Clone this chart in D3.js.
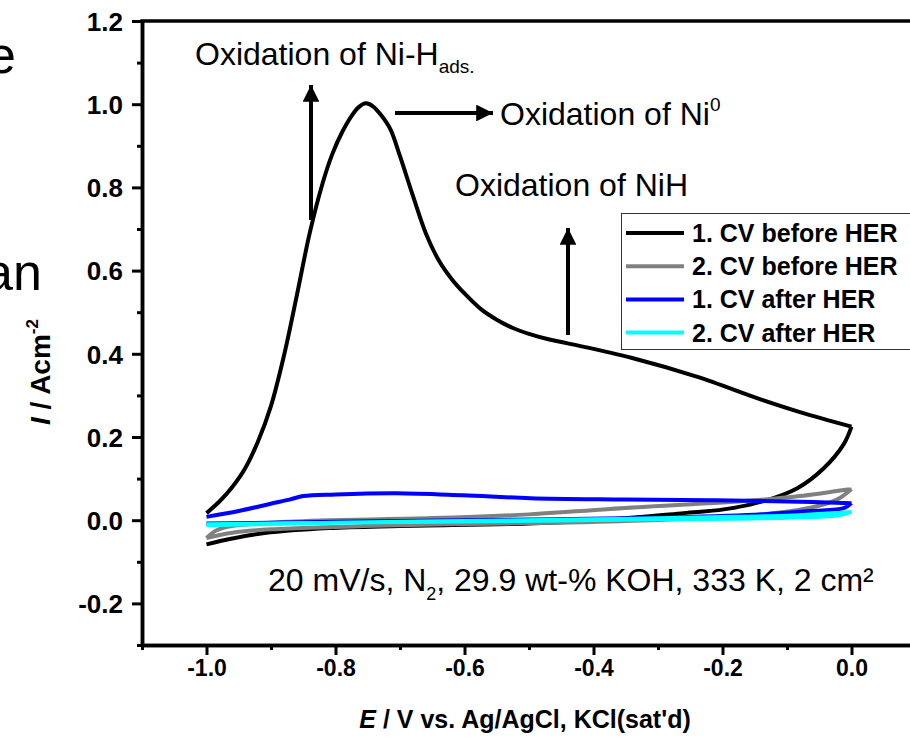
<!DOCTYPE html>
<html>
<head>
<meta charset="utf-8">
<script src="https://cdn.jsdelivr.net/npm/d3@7"></script>
<style>
  body { margin: 0; background: #fff; }
  svg { display: block; font-family: "Liberation Sans", Arial, sans-serif; }
</style>
</head>
<body>
<svg id="chart" width="910" height="753"></svg>
<script>
// CV data: [E (V), I (A/cm2)]
// forward scan (-1.0 -> 0.0) and reverse scan (0.0 -> -1.0) kept apart so the turn stays sharp
var cv1BeforeFwd = [
  [-1.0, 0.017], [-0.98, 0.045], [-0.96, 0.08], [-0.94, 0.125], [-0.92, 0.19],
  [-0.90, 0.275], [-0.88, 0.395], [-0.86, 0.54], [-0.84, 0.69], [-0.82, 0.81],
  [-0.805, 0.88], [-0.79, 0.932], [-0.775, 0.972], [-0.764, 0.993], [-0.753, 1.002],
  [-0.742, 0.995], [-0.73, 0.975], [-0.715, 0.94], [-0.70, 0.875], [-0.68, 0.78],
  [-0.66, 0.69], [-0.64, 0.625], [-0.62, 0.58], [-0.60, 0.545], [-0.575, 0.508],
  [-0.55, 0.482], [-0.525, 0.462], [-0.50, 0.448], [-0.47, 0.435], [-0.44, 0.425],
  [-0.34, 0.39], [-0.24, 0.345], [-0.14, 0.29], [-0.08, 0.26], [0.0, 0.225]
];
var cv1BeforeRev = [
  [0.0, 0.225], [-0.012, 0.183], [-0.043, 0.125], [-0.084, 0.077], [-0.136, 0.046],
  [-0.198, 0.026], [-0.26, 0.017], [-0.39, 0.0], [-0.5, -0.008], [-0.7, -0.014],
  [-0.81, -0.019], [-0.91, -0.031], [-0.96, -0.044], [-1.0, -0.058]
];
var cv2BeforeFwd = [
  [-1.0, -0.043], [-0.985, -0.025], [-0.965, -0.015], [-0.9, -0.006], [-0.81, 0.0],
  [-0.65, 0.005], [-0.5, 0.014], [-0.374, 0.027], [-0.167, 0.046], [-0.08, 0.058],
  [0.0, 0.075]
];
var cv2BeforeRev = [
  [0.0, 0.075], [-0.022, 0.05], [-0.064, 0.03], [-0.167, 0.01], [-0.374, -0.003],
  [-0.5, -0.007], [-0.7, -0.012], [-0.9, -0.022], [-0.96, -0.03], [-1.0, -0.043]
];
var cv1AfterFwd = [
  [-1.0, 0.008], [-0.95, 0.022], [-0.902, 0.039], [-0.87, 0.05], [-0.85, 0.058],
  [-0.8, 0.062], [-0.705, 0.065], [-0.602, 0.06], [-0.498, 0.053], [-0.35, 0.05],
  [-0.22, 0.048], [-0.1, 0.045], [0.0, 0.041]
];
var cv1AfterRev = [
  [0.0, 0.041], [-0.012, 0.029], [-0.064, 0.022], [-0.15, 0.013], [-0.3, 0.006],
  [-0.6, 0.0], [-0.8, -0.004], [-1.0, -0.008]
];
var cv2AfterFwd = [
  [-1.0, -0.012], [-0.8, -0.006], [-0.6, -0.002], [-0.4, 0.002], [-0.22, 0.007],
  [-0.1, 0.011], [0.0, 0.02]
];
var cv2AfterRev = [
  [0.0, 0.02], [-0.02, 0.012], [-0.1, 0.006], [-0.3, 0.002], [-0.6, -0.003],
  [-0.8, -0.006], [-1.0, -0.01]
];

var seriesNames = ["1. CV before HER", "2. CV before HER", "1. CV after HER", "2. CV after HER"];
var seriesColors = ["#000000", "#808080", "#0000ff", "#00ffff"];
var seriesData = [
  [cv1BeforeFwd, cv1BeforeRev],
  [cv2BeforeFwd, cv2BeforeRev],
  [cv1AfterFwd, cv1AfterRev],
  [cv2AfterFwd, cv2AfterRev]
];

var xTicks = [-1.0, -0.8, -0.6, -0.4, -0.2, 0.0];
var xMinor = [-1.1, -0.9, -0.7, -0.5, -0.3, -0.1];
var yTicks = [-0.2, 0.0, 0.2, 0.4, 0.6, 0.8, 1.0, 1.2];
var yMinor = [-0.3, -0.1, 0.1, 0.3, 0.5, 0.7, 0.9, 1.1];

var svg = d3.select("#chart");

var x = d3.scaleLinear().domain([-1.1, 0.1]).range([142, 916]);
var y = d3.scaleLinear().domain([-0.3, 1.2]).range([645, 21]);
var fmt = d => d3.format(".1f")(d).replace("\u2212", "-");

// cropped slide text on the left edge
svg.append("text").attr("x", -13).attr("y", 73).attr("font-size", 52).text("e");
svg.append("text").attr("x", -16).attr("y", 290).attr("font-size", 52).text("an");

// curves
var line = d3.line().x(d => x(d[0])).y(d => y(d[1])).curve(d3.curveCatmullRom.alpha(0.5));
seriesData.forEach(function(s, i) {
  svg.append("path")
    .attr("d", line(s[0]) + line(s[1]))
    .attr("fill", "none")
    .attr("stroke", seriesColors[i])
    .attr("stroke-width", 4)
    .attr("stroke-linejoin", "round")
    .attr("stroke-linecap", "butt");
});

// axes
var xAxis = svg.append("g").attr("transform", "translate(0," + y(-0.3) + ")")
  .call(d3.axisBottom(x).tickValues(xTicks).tickFormat(fmt).tickSize(10).tickSizeOuter(0));
svg.append("g").attr("transform", "translate(0," + y(-0.3) + ")")
  .call(d3.axisBottom(x).tickValues(xMinor).tickFormat("").tickSize(5).tickSizeOuter(0));
var yAxis = svg.append("g").attr("transform", "translate(" + x(-1.1) + ",0)")
  .call(d3.axisLeft(y).tickValues(yTicks).tickFormat(fmt).tickSize(10).tickSizeOuter(0));
svg.append("g").attr("transform", "translate(" + x(-1.1) + ",0)")
  .call(d3.axisLeft(y).tickValues(yMinor).tickFormat("").tickSize(5).tickSizeOuter(0));

svg.selectAll(".domain").attr("stroke", "#000").attr("stroke-width", 3.5);
svg.selectAll(".tick line").attr("stroke", "#000").attr("stroke-width", 3);
svg.selectAll(".tick text").attr("fill", "#000").attr("font-weight", "bold")
  .attr("font-family", "Liberation Sans, Arial, sans-serif");
xAxis.selectAll(".tick text").attr("font-size", 23).attr("dy", null).attr("y", 31);
yAxis.selectAll(".tick text").attr("font-size", 26).attr("x", -19).attr("dy", "0.36em");

// top frame line
svg.append("line").attr("x1", x(-1.1) - 1.75).attr("x2", 912).attr("y1", y(1.2)).attr("y2", y(1.2))
  .attr("stroke", "#000").attr("stroke-width", 3.5);

// axis titles
var xt = svg.append("text").attr("x", 525).attr("y", 728).attr("text-anchor", "middle")
  .attr("font-size", 25).attr("font-weight", "bold");
xt.append("tspan").attr("font-style", "italic").text("E");
xt.append("tspan").text(" / V vs. Ag/AgCl, KCl(sat'd)");

var yt = svg.append("text").attr("transform", "translate(50,372) rotate(-90)").attr("text-anchor", "middle")
  .attr("font-size", 28).attr("font-weight", "bold");
yt.append("tspan").attr("font-style", "italic").text("I");
yt.append("tspan").text(" / Acm");
yt.append("tspan").attr("font-size", 17).attr("dy", -12).text("-2");

// legend
var lg = svg.append("g");
lg.append("rect").attr("x", 621.5).attr("y", 213.5).attr("width", 300).attr("height", 136)
  .attr("fill", "#fff").attr("stroke", "#333").attr("stroke-width", 1);
seriesNames.forEach(function(n, i) {
  var cy = 233 + i * 33.2;
  lg.append("line").attr("x1", 626).attr("x2", 684).attr("y1", cy).attr("y2", cy)
    .attr("stroke", seriesColors[i]).attr("stroke-width", 4);
  lg.append("text").attr("x", 692).attr("y", cy + 9).attr("font-size", 25).attr("font-weight", "bold").text(n);
});

// annotations
svg.append("defs").append("marker").attr("id", "head")
  .attr("viewBox", "0 0 10 10").attr("refX", 10).attr("refY", 5)
  .attr("markerWidth", 6.5).attr("markerHeight", 4.2).attr("markerUnits", "strokeWidth")
  .attr("orient", "auto")
  .append("path").attr("d", "M0,0 L10,5 L0,10 Z").attr("fill", "#000");

function arrow(x1, y1, x2, y2) {
  svg.append("line").attr("x1", x1).attr("y1", y1).attr("x2", x2).attr("y2", y2)
    .attr("stroke", "#000").attr("stroke-width", 4).attr("marker-end", "url(#head)");
}
arrow(311, 220, 311, 85);
arrow(395, 113, 493, 113);
arrow(568, 335, 568, 228);

var a1 = svg.append("text").attr("x", 195).attr("y", 65).attr("font-size", 32);
a1.append("tspan").text("Oxidation of Ni-H");
a1.append("tspan").attr("font-size", 19).attr("dy", 8).text("ads.");

var a2 = svg.append("text").attr("x", 500).attr("y", 125).attr("font-size", 32);
a2.append("tspan").text("Oxidation of Ni");
a2.append("tspan").attr("font-size", 19).attr("dy", -14).text("0");

svg.append("text").attr("x", 455).attr("y", 196).attr("font-size", 32).text("Oxidation of NiH");

var a4 = svg.append("text").attr("x", 268).attr("y", 591).attr("font-size", 32);
a4.append("tspan").text("20 mV/s, N");
a4.append("tspan").attr("font-size", 18).attr("dy", 9).text("2");
a4.append("tspan").attr("dy", -9).text(", 29.9 wt-% KOH, 333 K, 2 cm²");
</script>
</body>
</html>
